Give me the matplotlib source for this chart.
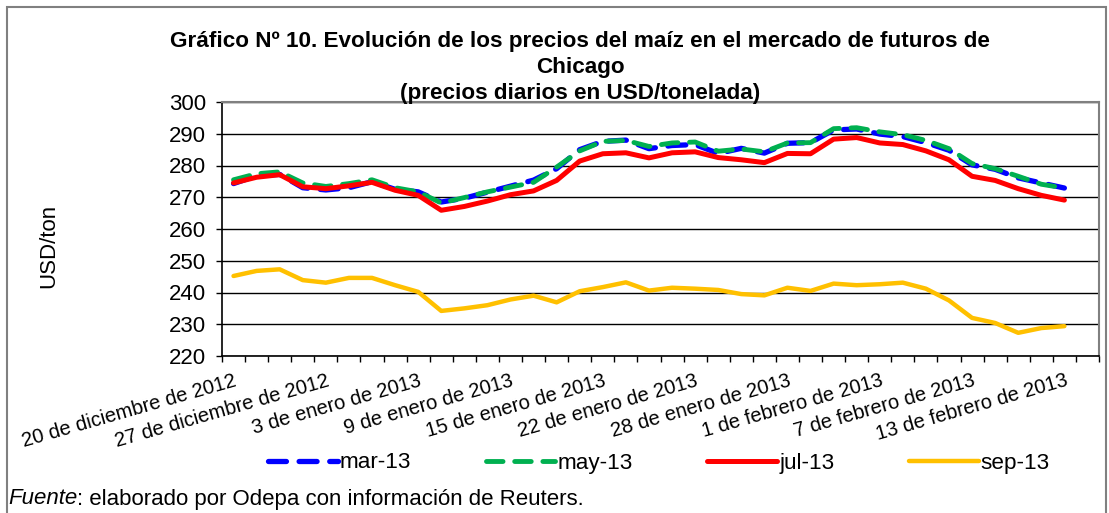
import matplotlib
matplotlib.use("Agg")
import matplotlib.pyplot as plt
import numpy as np
from matplotlib.patches import Rectangle

plt.rcParams['font.family'] = ['Liberation Sans', 'DejaVu Sans']

# daily trading days, 20 Dec 2012 -> 13 Feb 2013 (one empty category at the end)
n_cats = 38
tick_labels = ["20 de diciembre de 2012", "27 de diciembre de 2012", "3 de enero de 2013",
               "9 de enero de 2013", "15 de enero de 2013", "22 de enero de 2013",
               "28 de enero de 2013", "1 de febrero de 2013", "7 de febrero de 2013",
               "13 de febrero de 2013"]
title_lines = ["Gráfico Nº 10. Evolución de los precios del maíz en el mercado de futuros de",
               "Chicago", "(precios diarios en USD/tonelada)"]

mar13 = [274.3, 276.8, 277.2, 273.0, 272.3, 273.0, 274.9, 272.5, 271.7, 268.5,
         269.7, 271.6, 273.5, 275.4, 279.0, 285.0, 287.6, 288.0, 285.3, 286.3,
         286.6, 283.8, 285.4, 283.9, 287.0, 287.2, 291.2, 291.5, 289.9, 289.1,
         287.2, 284.8, 280.2, 278.8, 276.1, 274.5, 272.9]
may13 = [275.5, 277.4, 278.0, 274.5, 273.4, 274.3, 275.5, 273.0, 271.7, 268.2,
         269.9, 271.7, 273.2, 274.7, 279.5, 284.6, 287.6, 287.9, 286.0, 287.1,
         287.4, 284.5, 285.2, 284.3, 287.1, 287.2, 291.6, 291.9, 290.6, 289.7,
         287.9, 285.3, 280.6, 279.0, 276.6, 274.1, 272.9]
jul13 = [274.5, 276.3, 277.1, 273.3, 272.7, 273.6, 274.7, 272.2, 270.6, 265.9,
         267.1, 268.8, 270.8, 272.0, 275.3, 281.4, 283.7, 284.0, 282.4, 284.0,
         284.3, 282.5, 281.8, 280.9, 283.8, 283.7, 288.3, 288.8, 287.1, 286.6,
         284.6, 281.8, 276.6, 275.3, 272.7, 270.6, 269.1]
sep13 = [245.2, 246.8, 247.3, 243.9, 243.1, 244.6, 244.6, 242.3, 240.2, 234.2,
         235.0, 236.0, 237.8, 239.0, 236.9, 240.4, 241.7, 243.2, 240.6, 241.5,
         241.2, 240.8, 239.5, 239.1, 241.5, 240.5, 242.8, 242.3, 242.6, 243.1,
         241.2, 237.5, 232.0, 230.4, 227.3, 228.8, 229.4]

fig = plt.figure(figsize=(11.09, 5.13), dpi=100)
ax = fig.add_axes([222 / 1109, 1 - 356 / 513, 877 / 1109, 254 / 513])

x = np.arange(len(mar13))
ax.plot(x, mar13, color="#0000FF", lw=3.8, dashes=(3.4, 2.4), dash_capstyle="round",
        label="mar-13", zorder=3)
ax.plot(x, may13, color="#00B050", lw=3.5, dashes=(3.4, 2.4), dash_capstyle="round",
        label="may-13", zorder=4)
ax.plot(x, jul13, color="#FF0000", lw=3.6, solid_capstyle="round", label="jul-13", zorder=5)
ax.plot(x, sep13, color="#FFC000", lw=3.2, solid_capstyle="round", label="sep-13", zorder=5)

ax.set_ylim(220, 300)
ax.set_yticks(np.arange(220, 301, 10))
ax.set_xlim(-0.5, n_cats - 0.5)
ax.set_xticks(np.arange(-0.5, n_cats, 1))
ax.set_xticklabels([])
ax.set_xticks(np.arange(0, 37, 4), minor=True)
ax.set_xticklabels(tick_labels, minor=True, rotation=16, ha="right", va="top",
                   rotation_mode="anchor", fontsize=14.5)
ax.tick_params(axis="x", which="minor", length=0, pad=11)
ax.tick_params(axis="x", which="major", length=4.5, width=1, direction="out")
ax.tick_params(axis="y", length=4.5, width=1, direction="out", labelsize=16, pad=7)

ax.grid(axis="y", color="black", lw=1)
ax.set_axisbelow(True)
for s in ["top", "right"]:
    ax.spines[s].set_color("#808080")
    ax.spines[s].set_linewidth(1.5)
for s in ["left", "bottom"]:
    ax.spines[s].set_color("black")
    ax.spines[s].set_linewidth(1.2)

ax.set_ylabel("USD/ton", fontsize=16)
ax.yaxis.set_label_coords(59 / 1109, 1 - 246 / 513, transform=fig.transFigure)

for i, line in enumerate(title_lines):
    fig.text(580 / 1109, 1 - (42 + 26 * i) / 513, line, ha="center", va="center",
             fontsize=16.2, fontweight="bold")

fig.legend(loc="center", bbox_to_anchor=(659 / 1109, 1 - 463 / 513), ncol=4,
           frameon=False, fontsize=16.2, handlelength=3.1, handletextpad=0.1,
           columnspacing=3.3)

t1 = fig.text(8 / 1109, 1 - 499 / 513, "Fuente", fontsize=16, style="italic", va="center")
ax.annotate(": elaborado por Odepa con información de Reuters.", xy=(1, 0.5),
            xycoords=t1, va="center", ha="left", fontsize=16, annotation_clip=False)

fig.patches.append(Rectangle((7 / 1109, -0.05), 1099 / 1109, 1 - 7 / 513 + 0.05,
                             transform=fig.transFigure, fill=False,
                             edgecolor="#808080", lw=1.5))

fig.savefig("out.png", dpi=100)
